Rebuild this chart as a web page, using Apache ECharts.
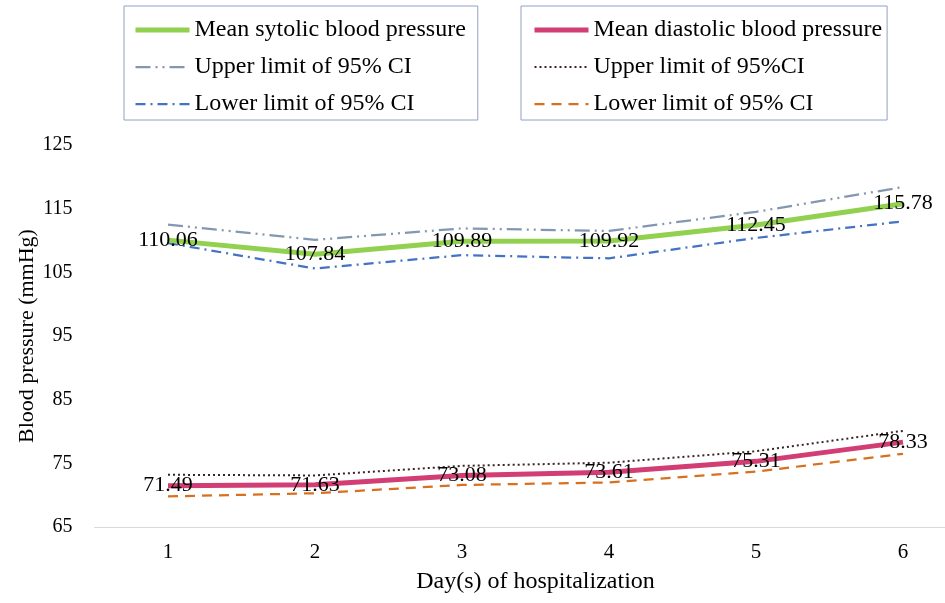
<!DOCTYPE html>
<html><head><meta charset="utf-8">
<script src="https://cdn.jsdelivr.net/npm/echarts@6/dist/echarts.min.js"></script>
<style>html,body{margin:0;padding:0;background:#fff}#c{width:945px;height:603px}</style>
</head><body><div id="c"></div>
<script>
const days = ['1', '2', '3', '4', '5', '6'];
const sysMean = [110.06, 107.84, 109.89, 109.92, 112.45, 115.78];
const sysUpper = [112.5, 110.1, 111.9, 111.5, 114.5, 118.4];
const sysLower = [109.6, 105.6, 107.7, 107.2, 110.4, 113.0];
const diaMean = [71.49, 71.63, 73.08, 73.61, 75.31, 78.33];
const diaUpper = [73.2, 73.1, 74.6, 75.1, 76.9, 80.1];
const diaLower = [69.8, 70.3, 71.6, 72.0, 73.7, 76.5];

const nSysMean = 'Mean sytolic blood pressure';
const nSysUp = 'Upper limit of 95% CI';
const nSysLo = 'Lower limit of 95% CI';
const nDiaMean = 'Mean diastolic blood pressure';
const nDiaUp = 'Upper limit of 95%CI';
const nDiaLo = 'Lower limit of 95% CI ';

const FONT = 'Liberation Serif';

function lineSeries(name, data, color, type, width, z, withLabel) {
  return {
    name: name, type: 'line', data: data, z: z,
    symbol: 'circle', symbolSize: 0, showSymbol: true,
    lineStyle: { color: color, width: width, type: type, cap: 'butt' },
    itemStyle: { color: color },
    emphasis: { disabled: true },
    label: withLabel ? { show: true, position: 'inside', fontSize: 22, color: '#000', fontFamily: FONT } : { show: false },
    silent: true
  };
}

const legendBase = {
  orient: 'vertical', top: 6, itemWidth: 54, itemHeight: 4, itemGap: 13,
  borderColor: '#8fa2c4', borderWidth: 1, backgroundColor: 'transparent',
  selectedMode: false,
  itemStyle: { opacity: 0 },
  lineStyle: { width: 'inherit' },
  textStyle: { fontSize: 24, color: '#000', fontFamily: FONT, lineHeight: 24 }
};

const chart = echarts.init(document.getElementById('c'));
chart.setOption({
  animation: false,
  backgroundColor: '#fff',
  textStyle: { fontFamily: FONT },
  legend: [
    Object.assign({}, legendBase, { left: 124, padding: [12, 12, 4, 9], data: [nSysMean, nSysUp, nSysLo] }),
    Object.assign({}, legendBase, { left: 521, padding: [12, 5, 4, 11], data: [nDiaMean, nDiaUp, nDiaLo] })
  ],
  grid: { left: 94.5, right: -31.5, top: 145, bottom: 76, containLabel: false, outerBoundsMode: 'none' },
  xAxis: {
    type: 'category', data: days, boundaryGap: true,
    axisLine: { lineStyle: { color: '#d9d9d9', width: 1 } },
    axisTick: { show: false },
    splitLine: { show: false },
    axisLabel: { fontSize: 21, color: '#000', margin: 15, fontFamily: FONT },
    name: 'Day(s) of hospitalization', nameLocation: 'middle', nameGap: 43, nameMoveOverlap: false,
    nameTextStyle: { fontSize: 24, color: '#000', fontFamily: FONT }
  },
  yAxis: {
    type: 'value', min: 65, max: 125, interval: 10,
    axisLine: { show: false }, axisTick: { show: false }, splitLine: { show: false },
    axisLabel: { fontSize: 20, color: '#000', margin: 22, fontFamily: FONT },
    name: 'Blood pressure (mmHg)', nameLocation: 'middle', nameGap: 56, nameMoveOverlap: false,
    nameTextStyle: { fontSize: 22, color: '#000', fontFamily: FONT }
  },
  series: [
    lineSeries(nSysUp, sysUpper, '#8497b0', [15, 5, 2, 5, 2, 5], 2.25, 2, false),
    lineSeries(nSysLo, sysLower, '#4472c4', [10, 5, 2, 5], 2.25, 2, false),
    lineSeries(nDiaUp, diaUpper, '#3b2323', [2, 3], 2, 2, false),
    lineSeries(nDiaLo, diaLower, '#d9701e', [10, 7], 2.25, 2, false),
    lineSeries(nSysMean, sysMean, '#92d050', 'solid', 5, 3, true),
    lineSeries(nDiaMean, diaMean, '#d23d73', 'solid', 5, 3, true)
  ]
});
</script></body></html>
